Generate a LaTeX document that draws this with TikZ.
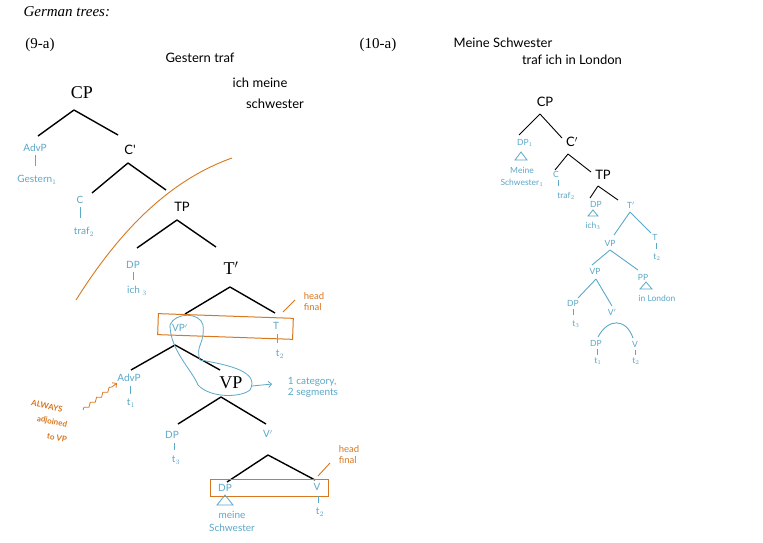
\documentclass[tikz,border=0pt]{standalone}
\usepackage{fontspec}
\setmainfont{Liberation Serif}
\newfontfamily\hand{Lato}
\usetikzlibrary{arrows.meta,decorations.pathmorphing}
\definecolor{bl}{HTML}{5BA8C8}
\definecolor{or}{HTML}{D9771E}
\tikzset{
 br/.style={line width=1.4pt,black},
 bbr/.style={line width=0.9pt,bl},
 kbr/.style={line width=0.9pt,black},
 bt/.style={bl,font=\hand\fontsize{10}{11}\selectfont,inner sep=0pt,align=center},
 st/.style={bl,font=\hand\fontsize{8.5}{9.5}\selectfont,inner sep=0pt,align=center},
 ot/.style={or,font=\hand\fontsize{9.5}{11}\selectfont,inner sep=0pt,align=center},
 alwtext/.style={or,font=\hand\bfseries\fontsize{8}{9}\selectfont,inner sep=0pt,rotate=-12},
 kt/.style={black,font=\hand\fontsize{13}{14}\selectfont,inner sep=0pt,align=left},
 pt/.style={black,font=\fontsize{18}{19}\selectfont,inner sep=0pt},
 tri/.style={bl,line width=0.8pt},
}
\begin{document}
\begin{tikzpicture}[x=1pt,y=-1pt]
\useasboundingbox[fill=white] (0,0) rectangle (763,543);
\node[anchor=west,font=\itshape\fontsize{15}{16}\selectfont] (title) at (20,12) {German trees:};
\node[font=\fontsize{15}{16}\selectfont] (n9) at (40,45) {(9-a)};
\node[font=\fontsize{15}{16}\selectfont] (n10) at (378,45) {(10-a)};
\node[kt] (h1) at (200,58) {Gestern traf};
\node[kt] (h2) at (260,83) {ich meine};
\node[kt] (h3) at (275,104) {schwester};
\node[kt] (h4) at (503,43) {Meine Schwester};
\node[kt] (h5) at (572,60) {traf ich in London};
% left tree
\node[pt] (cp) at (82,93) {CP};
\coordinate (cpa) at (38,136); \coordinate (cpb) at (118,135);
\draw[br] (74,110) -- (cpa) (74,110) -- (cpb);
\node[bt] (advp) at (35,148) {AdvP};
\draw[bl] (35,155) -- (35,166);
\node[bt] (gest) at (37,180) {Gestern$_1$};
\node[kt] (cbar) at (130,150) {C'};
\draw[br] (128,163) -- (92,193) (128,163) -- (166,190);
\node[bt] (c) at (80,200) {C};
\draw[bl] (80,207) -- (80,218);
\node[bt] (traf) at (84,232) {traf$_2$};
\node[kt] (tp) at (182,207) {TP};
\draw[br] (177,220) -- (137,248) (177,220) -- (216,247);
\node[bt] (dp1) at (133,265) {DP};
\draw[bl] (133,272) -- (133,280);
\node[bt] (ich1) at (137,291) {ich $_3$};
\node[pt] (tbar) at (231,268) {T$'$};
\draw[br] (230,287) -- (185,314) (230,287) -- (275,313);
\draw[or,line width=1pt,rotate around={-2:(226,326)}] (158,316) rectangle (293,337);
\draw[or,line width=0.9pt] (283,312) -- (295,300);
\node[ot,align=left] (hf1) at (314,302) {head\\final};
\node[bt] (vpp) at (180,328) {VP$'$};
\node[bt] (tt) at (276,326) {T};
\draw[bl] (277,334) -- (277,343);
\node[bt] (tt2) at (280,354) {t$_2$};
\draw[br] (175,345) -- (131,370) (175,345) -- (220,370);
\node[bt] (advp2) at (129,378) {AdvP};
\draw[bl] (130,386) -- (130,394);
\node[bt] (t1) at (131,403) {t$_1$};
\node[pt] (vp) at (231,383) {VP};
\draw[bl,line width=0.8pt] (170,325) .. controls (175,312) and (200,312) .. (203,325) .. controls (205,345) and (195,345) .. (200,360) .. controls (230,365) and (260,372) .. (250,390) .. controls (240,398) and (210,398) .. (198,385) .. controls (192,370) and (170,350) .. (170,325);
\draw[bl,line width=0.8pt,-{Straight Barb}] (252,386) -- (272,384);
\node[bt,align=left] (cat) at (313,387) {1 category,\\2 segments};
\draw[br] (221,397) -- (178,424) (221,397) -- (266,424);
\node[bt] (dp2) at (172,435) {DP};
\draw[bl] (174,443) -- (174,450);
\node[bt] (t3) at (176,460) {t$_3$};
\node[bt] (vb) at (268,434) {V$'$};
\draw[br] (268,455) -- (227,482) (268,455) -- (315,480);
\draw[or,line width=1pt] (210,479) rectangle (328,496);
\draw[or,line width=0.9pt] (318,476) -- (330,463);
\node[ot,align=left] (hf2) at (349,455) {head\\final};
\node[bt] (dp3) at (225,488) {DP};
\draw[tri] (225,495) -- (217,505) -- (233,505) -- cycle;
\node[bt,font=\hand\fontsize{10}{13}\selectfont] (ms) at (232,521) {meine\\Schwester};
\node[bt] (v) at (317,487) {V};
\draw[bl] (318,496) -- (318,503);
\node[bt] (vt2) at (320,512) {t$_2$};
\node[alwtext] (alw1) at (47,406) {ALWAYS};
\node[alwtext] (alw2) at (52,422) {adjoined};
\node[alwtext] (alw3) at (57,438) {to VP};
\draw[or,line width=0.8pt,-{Straight Barb},decorate,decoration={snake,amplitude=1.5pt,segment length=8pt,post length=4pt}] (83,410) -- (117,383);
\draw[or,line width=0.9pt] (76,300) .. controls (120,230) and (170,180) .. (232,158);
% right tree
\node[kt] (rcp) at (545,102) {CP};
\draw[kbr] (540,114) -- (519,135) (540,114) -- (562,138);
\node[st] (rdp) at (525,143) {DP$_1$};
\draw[tri] (521,152) -- (515,160) -- (527,160) -- cycle;
\node[st,font=\hand\fontsize{8.5}{12}\selectfont] (rms) at (522,177) {Meine\\Schwester$_1$};
\node[kt] (rcb) at (572,142) {C$'$};
\draw[kbr] (568,154) -- (555,170) (568,154) -- (591,172);
\node[st] (rc) at (556,174) {C};
\draw[bl] (558,180) -- (558,186);
\node[st] (rtraf) at (566,196) {traf$_2$};
\node[kt] (rtp) at (603,175) {TP};
\draw[kbr] (598,186) -- (590,198) (598,186) -- (618,200);
\node[st] (rdp2) at (596,204) {DP};
\draw[tri] (593,210) -- (588,216) -- (598,216) -- cycle;
\node[st] (ich) at (593,226) {ich$_3$};
\node[st] (rtb) at (631,205) {T$'$};
\draw[bbr] (630,212) -- (614,235) (630,212) -- (651,233);
\node[st] (rvp) at (610,243) {VP};
\node[st] (rt) at (655,237) {T};
\draw[bl] (656,243) -- (656,249);
\node[st] (rt2) at (657,257) {t$_2$};
\draw[bbr] (610,250) -- (592,265) (610,250) -- (638,270);
\node[st] (rvp2) at (595,271) {VP};
\node[st] (rpp) at (643,277) {PP};
\draw[tri] (646,282) -- (640,289) -- (652,289) -- cycle;
\node[st] (lon) at (657,298) {in London};
\draw[bbr] (596,279) -- (578,298) (596,279) -- (612,306);
\node[st] (rdp3) at (573,303) {DP};
\draw[bl] (573,309) -- (573,315);
\node[st] (rt3) at (576,324) {t$_3$};
\node[st] (rvb) at (612,312) {V$'$};
\draw[bbr] (598,337) .. controls (608,318) and (626,318) .. (633,338);
\node[st] (rdp4) at (596,343) {DP};
\draw[bl] (597,349) -- (597,355);
\node[st] (rt1) at (598,361) {t$_1$};
\node[st] (rv) at (635,344) {V};
\draw[bl] (635,350) -- (635,355);
\node[st] (rt2b) at (636,361) {t$_2$};
\end{tikzpicture}
\end{document}
